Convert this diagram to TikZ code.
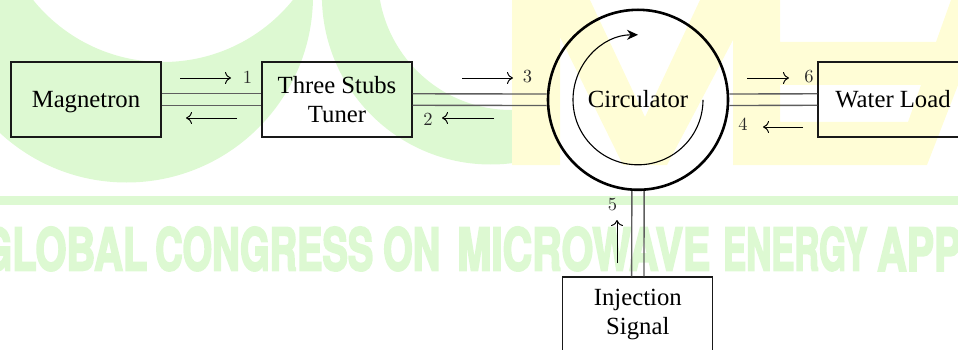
\documentclass[tikz,border=0pt]{standalone}
\usepackage{fontspec}
\usepackage{graphicx}
\setmainfont{Liberation Serif}
\newfontfamily\digitfont{lmroman10-regular.otf}
\newfontfamily\bannerfont[FakeBold=4]{texgyreheros-bold.otf}
\usetikzlibrary{arrows.meta,calc}
\definecolor{wmgreen}{HTML}{DDF9D2}
\definecolor{wmyellow}{HTML}{FFFDD6}
\definecolor{guide}{HTML}{5E5E5E}
\definecolor{numgray}{HTML}{2A2A2A}
\begin{document}
\begin{tikzpicture}[x=1pt,y=-1pt,
  box/.style={draw=black!90, line width=1.1pt, minimum width=150pt, minimum height=75pt,
    inner sep=0pt, align=center, font=\fontsize{24.7}{28.3}\selectfont},
  oneline/.style={text height=16.3pt, text depth=0pt},
  wg/.style={draw=guide, line width=1.4pt},
  flow/.style={-{Computer Modern Rightarrow[length=6pt,width=12pt]}, line width=0.95pt},
  num/.style={inner sep=0pt, text=numgray, font=\digitfont\fontsize{18.5}{18.5}\selectfont,
    text height=11.9pt, text depth=0pt},
  wmtext/.style={inner sep=0pt, text=wmgreen, font=\bannerfont, anchor=south west}]
\useasboundingbox (0,0) rectangle (958,350);
\clip (0,0) rectangle (958,350);

% --- background logo ---
\fill[wmgreen, even odd rule] (126.5,-4) circle[radius=186.5] (163,-105) circle[radius=167];
\begin{scope}
  \clip (0,0) rectangle (536,350);
  \fill[wmgreen, even odd rule] (490.7,-4.3) circle[radius=168.8] (511.5,-23.6) circle[radius=133.6];
\end{scope}
\fill[wmgreen] (0,196) rectangle (958,205);
\fill[wmyellow, even odd rule]
  (512,0) -- (590,0) -- (645,117) -- (700,0) -- (780,0) -- (780,42) -- (936,42)
  -- (951,0) -- (991,0) -- (927,165) -- (733,165) -- (733,40) -- (667,165)
  -- (623,165) -- (560,37) -- (560,165) -- (512,165) -- cycle
  (780,85) -- (921,85) -- (908,122) -- (780,122) -- cycle;
\node[wmtext] (w1) at (-19,271) {\resizebox{166pt}{43pt}{GLOBAL}};
\node[wmtext] (w2) at (155,271) {\resizebox{218pt}{43pt}{CONGRESS}};
\node[wmtext] (w3) at (383,271) {\resizebox{57pt}{43pt}{ON}};
\node[wmtext] (w4) at (457,271) {\resizebox{253pt}{43pt}{MICROWAVE}};
\node[wmtext] (w5) at (723,271) {\resizebox{144pt}{43pt}{ENERGY}};
\node[wmtext] (w6) at (877,271) {\resizebox{84pt}{43pt}{APP}};

% --- blocks ---
\node[box, oneline] (mag) at (86,99.5) {Magnetron};
\node[box] (tun) at (337,99.5) {Three Stubs\\Tuner};
\node[circle, draw=black, line width=2.6pt, minimum size=180pt, inner sep=0pt,
  font=\fontsize{24.7}{28.3}\selectfont, oneline] (circ) at (638,99.8) {Circulator};
\node[box, oneline] (water) at (893,99.5) {Water Load};
\node[box] (inj) at (637.8,314.5) {Injection\\Signal};

% --- waveguides ---
\foreach \s in {-5.75,5.75} {
  \draw[wg] ([yshift=\s pt]mag.east) -- ([yshift=\s pt]tun.west);
  \draw[wg] ([yshift=\s pt]tun.east) -- ([yshift=\s pt]circ.west);
  \draw[wg] ([yshift=\s pt]circ.east) -- ([yshift=\s pt]water.west);
}
\foreach \s in {-6.15,6.15} {
  \draw[wg] ([xshift=\s pt]circ.south) -- ([xshift=\s pt]inj.north);
}

% --- circulation sense ---
\draw[line width=1.1pt, -{Stealth[length=11pt,width=10pt]}]
  (circ.center) ++(65,0) arc[start angle=0, end angle=270, radius=65];

% --- wave directions ---
\draw[flow] (180,78) -- (231,78);
\draw[flow] (237,118) -- (186,118);
\draw[flow] (462,78) -- (513,78);
\draw[flow] (494,118) -- (442,118);
\draw[flow] (747,78) -- (789,78);
\draw[flow] (803,127) -- (763,127);
\draw[flow] (617,263) -- (617,220);

\node[num] (n1) at (247.5,77.5) {1};
\node[num] (n2) at (428,119.5) {2};
\node[num] (n3) at (527.5,76.5) {3};
\node[num] (n4) at (743,125) {4};
\node[num] (n5) at (612.5,205) {5};
\node[num] (n6) at (809,76.5) {6};
\end{tikzpicture}
\end{document}
